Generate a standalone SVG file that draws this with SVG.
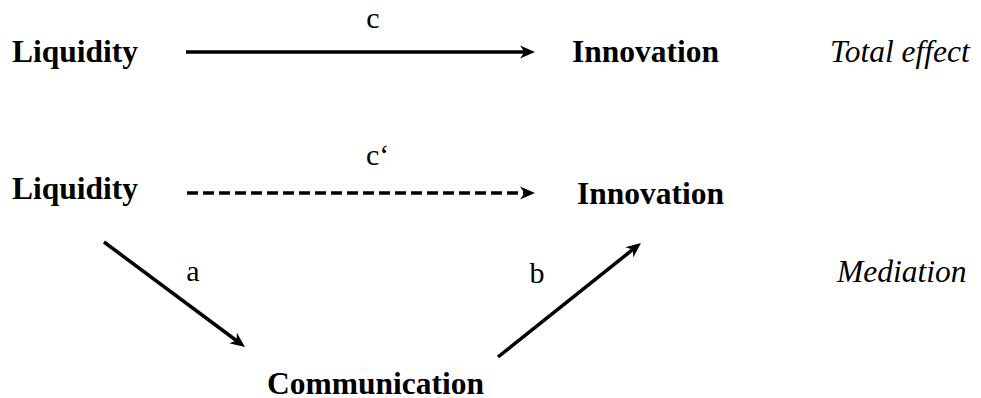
<svg xmlns="http://www.w3.org/2000/svg" width="981" height="398" viewBox="0 0 981 398">
<style>
text{font-family:'Liberation Serif',Tinos,'Times New Roman',Times,'Noto Serif','DejaVu Serif',serif;fill:#000}
.node{font-weight:bold;font-size:31.5px}
.lab{font-size:30px}
.note{font-style:italic;font-size:31.5px}
.edge{stroke:#000;stroke-width:3.5;fill:none}
.dash{stroke-dasharray:11 5}
</style>
<defs>
<marker id="ah" viewBox="-16 -8 17 16" refX="-10" refY="0" markerWidth="17" markerHeight="16" markerUnits="userSpaceOnUse" orient="auto">
<path d="M0,0 L-15,-6.5 L-10.5,0 L-15,6.5 Z" fill="#000"/>
</marker>
</defs>
<rect width="981" height="398" fill="#fff"/>
<g id="connectors">
<line class="edge" x1="186" y1="52" x2="525" y2="52" marker-end="url(#ah)"/>
<text class="lab" x="373" y="28" text-anchor="middle">c</text>
<line class="edge dash" x1="187" y1="193" x2="525" y2="193" marker-end="url(#ah)"/>
<text class="lab" x="366" y="165">c‘</text>
<line class="edge" x1="104" y1="242" x2="237" y2="341" marker-end="url(#ah)"/>
<text class="lab" x="193" y="281" text-anchor="middle">a</text>
<line class="edge" x1="498" y1="357" x2="633.2" y2="249.2" marker-end="url(#ah)"/>
<text class="lab" x="537" y="283" text-anchor="middle">b</text>
</g>
<g id="liquidity-total"><text class="node" x="12" y="62">Liquidity</text></g>
<g id="innovation-total"><text class="node" x="572" y="62">Innovation</text></g>
<g id="liquidity-med"><text class="node" x="12" y="199">Liquidity</text></g>
<g id="innovation-med"><text class="node" x="577" y="204">Innovation</text></g>
<g id="communication"><text class="node" x="267" y="394">Communication</text></g>
<g id="notes">
<text class="note" x="830" y="62">Total effect</text>
<text class="note" x="837" y="282">Mediation</text>
</g>
</svg>
